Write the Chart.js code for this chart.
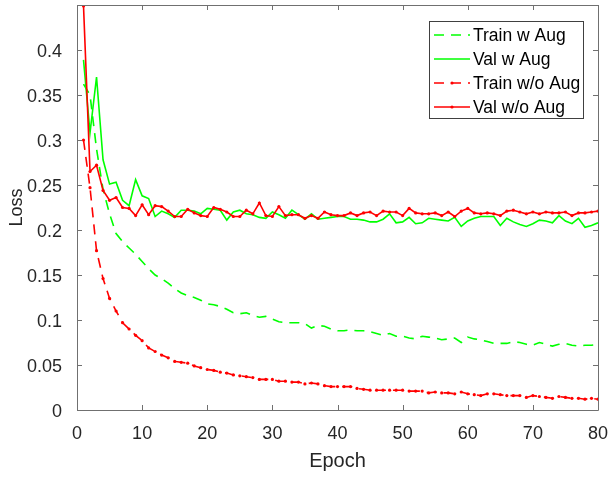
<!DOCTYPE html>
<html>
<head>
<meta charset="utf-8">
<script src="https://cdn.jsdelivr.net/npm/chart.js@4.4.0/dist/chart.umd.min.js"></script>
<style>
    html, body { margin: 0; padding: 0; background: #fff; }
    #wrap { width: 609px; height: 477px; }
</style>
</head>
<body>
<div id="wrap"><canvas id="lossChart" width="609" height="477"></canvas></div>
<script>
const epochs = [1, 2, 3, 4, 5, 6, 7, 8, 9, 10, 11, 12, 13, 14, 15, 16, 17, 18, 19, 20,
    21, 22, 23, 24, 25, 26, 27, 28, 29, 30, 31, 32, 33, 34, 35, 36, 37, 38, 39, 40,
    41, 42, 43, 44, 45, 46, 47, 48, 49, 50, 51, 52, 53, 54, 55, 56, 57, 58, 59, 60,
    61, 62, 63, 64, 65, 66, 67, 68, 69, 70, 71, 72, 73, 74, 75, 76, 77, 78, 79, 80];

const trainAug = [0.362, 0.350, 0.290, 0.245, 0.218, 0.196, 0.187, 0.180, 0.173, 0.165,
    0.157, 0.150, 0.146, 0.141, 0.135, 0.130, 0.127, 0.125, 0.122, 0.118,
    0.117, 0.115, 0.112, 0.108, 0.107, 0.108, 0.105, 0.103, 0.104, 0.101,
    0.098, 0.097, 0.097, 0.097, 0.096, 0.091, 0.094, 0.093, 0.090, 0.088,
    0.088, 0.089, 0.088, 0.088, 0.087, 0.085, 0.083, 0.085, 0.082, 0.082,
    0.080, 0.079, 0.082, 0.081, 0.080, 0.078, 0.079, 0.080, 0.075, 0.081,
    0.079, 0.078, 0.076, 0.074, 0.074, 0.074, 0.076, 0.075, 0.073, 0.072,
    0.075, 0.073, 0.071, 0.073, 0.074, 0.072, 0.071, 0.072, 0.072, 0.073];

const valAug = [0.389, 0.308, 0.370, 0.278, 0.251, 0.253, 0.233, 0.227, 0.256, 0.238,
    0.235, 0.215, 0.221, 0.218, 0.214, 0.222, 0.222, 0.221, 0.218, 0.224,
    0.223, 0.222, 0.211, 0.220, 0.222, 0.218, 0.217, 0.214, 0.213, 0.220,
    0.217, 0.213, 0.222, 0.217, 0.212, 0.218, 0.212, 0.213, 0.214, 0.215,
    0.215, 0.212, 0.212, 0.211, 0.209, 0.209, 0.212, 0.218, 0.208, 0.209,
    0.214, 0.207, 0.208, 0.213, 0.212, 0.211, 0.210, 0.214, 0.204, 0.210,
    0.213, 0.215, 0.215, 0.215, 0.205, 0.213, 0.209, 0.206, 0.204, 0.207,
    0.211, 0.210, 0.208, 0.216, 0.210, 0.207, 0.213, 0.203, 0.205, 0.208];

const trainNoAug = [0.300, 0.247, 0.177, 0.146, 0.124, 0.110, 0.097, 0.090, 0.083, 0.077,
    0.069, 0.065, 0.061, 0.058, 0.054, 0.053, 0.052, 0.049, 0.047, 0.045,
    0.044, 0.042, 0.041, 0.039, 0.038, 0.037, 0.036, 0.034, 0.034, 0.034,
    0.032, 0.032, 0.031, 0.031, 0.029, 0.030, 0.029, 0.027, 0.026, 0.026,
    0.026, 0.026, 0.024, 0.023, 0.022, 0.022, 0.022, 0.022, 0.022, 0.022,
    0.021, 0.021, 0.021, 0.019, 0.020, 0.019, 0.019, 0.018, 0.020, 0.018,
    0.017, 0.016, 0.018, 0.018, 0.017, 0.016, 0.016, 0.016, 0.014, 0.016,
    0.015, 0.014, 0.013, 0.015, 0.014, 0.013, 0.013, 0.012, 0.013, 0.012];

const valNoAug = [0.449, 0.265, 0.272, 0.244, 0.233, 0.236, 0.225, 0.224, 0.216, 0.228,
    0.217, 0.227, 0.226, 0.221, 0.215, 0.215, 0.223, 0.219, 0.216, 0.215,
    0.225, 0.223, 0.220, 0.215, 0.215, 0.222, 0.218, 0.230, 0.216, 0.215,
    0.226, 0.216, 0.217, 0.217, 0.213, 0.216, 0.213, 0.220, 0.217, 0.216,
    0.216, 0.219, 0.216, 0.219, 0.220, 0.216, 0.221, 0.220, 0.220, 0.216,
    0.224, 0.219, 0.218, 0.218, 0.219, 0.216, 0.220, 0.215, 0.221, 0.224,
    0.219, 0.218, 0.219, 0.218, 0.216, 0.221, 0.222, 0.220, 0.218, 0.220,
    0.218, 0.220, 0.219, 0.219, 0.220, 0.216, 0.219, 0.219, 0.220, 0.221];

const seriesNames = ['Train w Aug', 'Val w Aug', 'Train w/o Aug', 'Val w/o Aug'];
const xTicks = [0, 10, 20, 30, 40, 50, 60, 70, 80];
const yTicks = [0, 0.05, 0.1, 0.15, 0.2, 0.25, 0.3, 0.35, 0.4];
const yTickLabels = ['0', '0.05', '0.1', '0.15', '0.2', '0.25', '0.3', '0.35', '0.4'];

const GREEN = '#00ff00';
const RED = '#ff0000';
const AXIS = '#707070';
const TEXT = '#262626';
const FONT = '"Liberation Sans", Arial, Helvetica, sans-serif';

// matlab style box, inward ticks and the legend inside the axes
const matlabBox = {
    id: 'matlabBox',
    afterDatasetsDraw(chart) {
        const { ctx, chartArea: { top, bottom, left, right }, scales: { x, y } } = chart;
        ctx.save();
        ctx.strokeStyle = AXIS;
        ctx.lineWidth = 1;
        ctx.beginPath();
        ctx.rect(Math.round(left) + 0.5, Math.round(top) + 0.5,
                 Math.round(right - left), Math.round(bottom - top));
        xTicks.forEach(v => {
            const px = Math.round(x.getPixelForValue(v)) + 0.5;
            ctx.moveTo(px, bottom); ctx.lineTo(px, bottom - 5);
            ctx.moveTo(px, top); ctx.lineTo(px, top + 5);
        });
        yTicks.forEach(v => {
            const py = Math.round(y.getPixelForValue(v)) + 0.5;
            ctx.moveTo(left, py); ctx.lineTo(left + 5, py);
            ctx.moveTo(right, py); ctx.lineTo(right - 5, py);
        });
        ctx.stroke();

        // legend
        const bx = 429, by = 21, bw = 154, bh = 97;
        ctx.fillStyle = '#fff';
        ctx.fillRect(bx, by, bw, bh);
        ctx.strokeStyle = '#404040';
        ctx.strokeRect(bx + 0.5, by + 0.5, bw, bh);
        ctx.font = '17.5px ' + FONT;
        ctx.textBaseline = 'middle';
        chart.data.datasets.forEach((ds, i) => {
            const ry = by + 14 + i * 24;
            ctx.strokeStyle = ds.borderColor;
            ctx.lineWidth = ds.borderWidth;
            ctx.setLineDash(ds.borderDash || []);
            ctx.beginPath();
            ctx.moveTo(bx + 5, ry);
            ctx.lineTo(bx + 41, ry);
            ctx.stroke();
            ctx.setLineDash([]);
            if (ds.pointRadius > 0) {
                ctx.fillStyle = ds.pointBackgroundColor;
                ctx.beginPath();
                ctx.arc(bx + 23, ry, ds.pointRadius, 0, Math.PI * 2);
                ctx.fill();
            }
            ctx.fillStyle = '#000';
            ctx.fillText(ds.label, bx + 44, ry + 1);
        });
        ctx.restore();
    }
};

const ctx = document.getElementById('lossChart').getContext('2d');
const lossChart = new Chart(ctx, {
    type: 'line',
    data: {
        labels: epochs,
        datasets: [{
            label: seriesNames[0],
            data: trainAug,
            borderColor: GREEN,
            borderWidth: 1.6,
            borderDash: [10, 7],
            pointRadius: 0,
            order: 4
        }, {
            label: seriesNames[1],
            data: valAug,
            borderColor: GREEN,
            borderWidth: 1.6,
            pointRadius: 0,
            order: 3
        }, {
            label: seriesNames[2],
            data: trainNoAug,
            borderColor: RED,
            borderWidth: 1.6,
            borderDash: [10, 7],
            pointRadius: 1.6,
            pointBorderWidth: 0,
            pointBackgroundColor: RED,
            order: 2
        }, {
            label: seriesNames[3],
            data: valNoAug,
            borderColor: RED,
            borderWidth: 1.6,
            pointRadius: 1.6,
            pointBorderWidth: 0,
            pointBackgroundColor: RED,
            order: 1
        }]
    },
    options: {
        responsive: false,
        animation: false,
        layout: {
            padding: { top: 5, right: 11, left: 0, bottom: 0 }
        },
        plugins: {
            legend: { display: false },
            tooltip: { enabled: false }
        },
        elements: {
            line: { tension: 0 }
        },
        scales: {
            x: {
                type: 'linear',
                min: 0,
                max: 80,
                afterBuildTicks: axis => { axis.ticks = xTicks.map(v => ({ value: v })); },
                afterFit: axis => {
                    axis.height = 67;
                    axis.paddingLeft = 0;
                    axis.paddingRight = 0;
                },
                grid: { display: false },
                border: { display: false },
                ticks: {
                    padding: 5,
                    color: TEXT,
                    font: { family: FONT, size: 18 },
                    maxRotation: 0
                },
                title: {
                    display: true,
                    text: 'Epoch',
                    color: TEXT,
                    font: { family: FONT, size: 20 },
                    padding: { top: 0, bottom: 4 }
                }
            },
            y: {
                min: 0,
                max: 0.45,
                afterBuildTicks: axis => { axis.ticks = yTicks.map(v => ({ value: v })); },
                afterFit: axis => {
                    axis.width = 77;
                    axis.paddingTop = 0;
                    axis.paddingBottom = 0;
                },
                grid: { display: false },
                border: { display: false },
                ticks: {
                    padding: 7,
                    labelOffset: 2,
                    color: TEXT,
                    font: { family: FONT, size: 18 },
                    callback: (value, index) => yTickLabels[index]
                },
                title: {
                    display: true,
                    text: 'Loss',
                    color: TEXT,
                    font: { family: FONT, size: 18 },
                    padding: { top: 6, bottom: 0 }
                }
            }
        }
    },
    plugins: [matlabBox]
});
</script>
</body>
</html>
